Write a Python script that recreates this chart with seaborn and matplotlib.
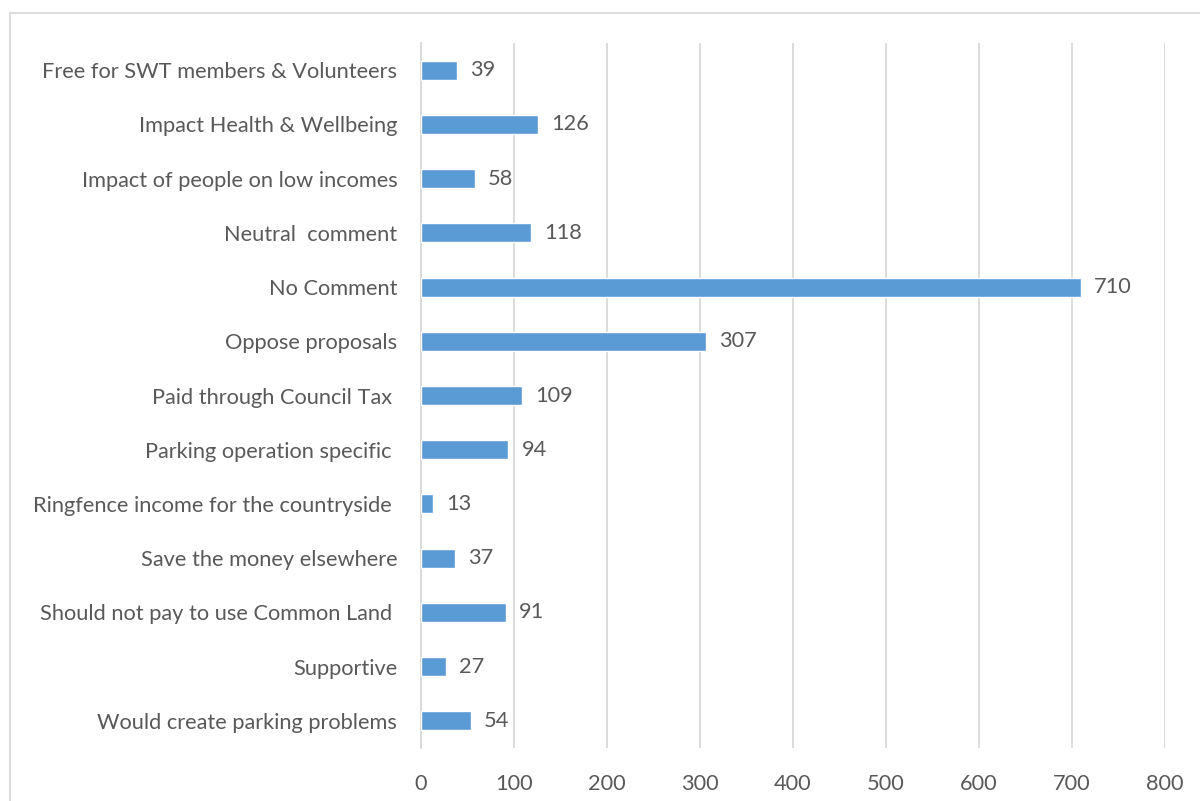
import matplotlib
matplotlib.use("Agg")
import matplotlib.pyplot as plt
from matplotlib.patches import Rectangle
import pandas as pd
import seaborn as sns

categories = [
    "Free for SWT members & Volunteers",
    "Impact Health & Wellbeing",
    "Impact of people on low incomes",
    "Neutral  comment",
    "No Comment",
    "Oppose proposals",
    "Paid through Council Tax ",
    "Parking operation specific ",
    "Ringfence income for the countryside ",
    "Save the money elsewhere",
    "Should not pay to use Common Land ",
    "Supportive",
    "Would create parking problems",
]
counts = [39, 126, 58, 118, 710, 307, 109, 94, 13, 37, 91, 27, 54]
x_ticks = [0, 100, 200, 300, 400, 500, 600, 700, 800]


def main():
    df = pd.DataFrame({"category": categories, "count": counts})

    sns.set_style("white")
    plt.rcParams["font.family"] = ["Lato", "DejaVu Sans"]
    text_color = "#595959"
    grid_color = "#D9D9D9"

    fig = plt.figure(figsize=(12, 8.01), dpi=100)
    ax = fig.add_axes([0.3508, 0.0662, 0.62, 0.880])

    sns.barplot(data=df, x="count", y="category", orient="h",
                color="#5B9BD5", saturation=1, width=0.35, ax=ax, zorder=3)

    ax.set_xlim(0, 800)
    ax.set_xticks(x_ticks)
    ax.set_xlabel("")
    ax.set_ylabel("")
    ax.grid(axis="x", color=grid_color, linewidth=1.3, zorder=0)
    for side in ["top", "right", "bottom"]:
        ax.spines[side].set_visible(False)
    ax.spines["left"].set_color(grid_color)
    ax.spines["left"].set_linewidth(1.3)
    ax.tick_params(axis="both", length=0, labelsize=15.7, colors=text_color)
    ax.tick_params(axis="y", pad=17)
    ax.tick_params(axis="x", pad=19)

    for i, v in enumerate(counts):
        ax.text(v + 14, i, str(v), va="center", ha="left",
                fontsize=15.7, color=text_color)

    # outer chart border (cropped on the right and bottom)
    fig.patches.append(Rectangle((10 / 1200, -0.05), 1.2, 0.9838 + 0.05,
                                 transform=fig.transFigure, fill=False,
                                 edgecolor=grid_color, linewidth=1.3))

    fig.savefig("out.png", dpi=100)


if __name__ == "__main__":
    main()
